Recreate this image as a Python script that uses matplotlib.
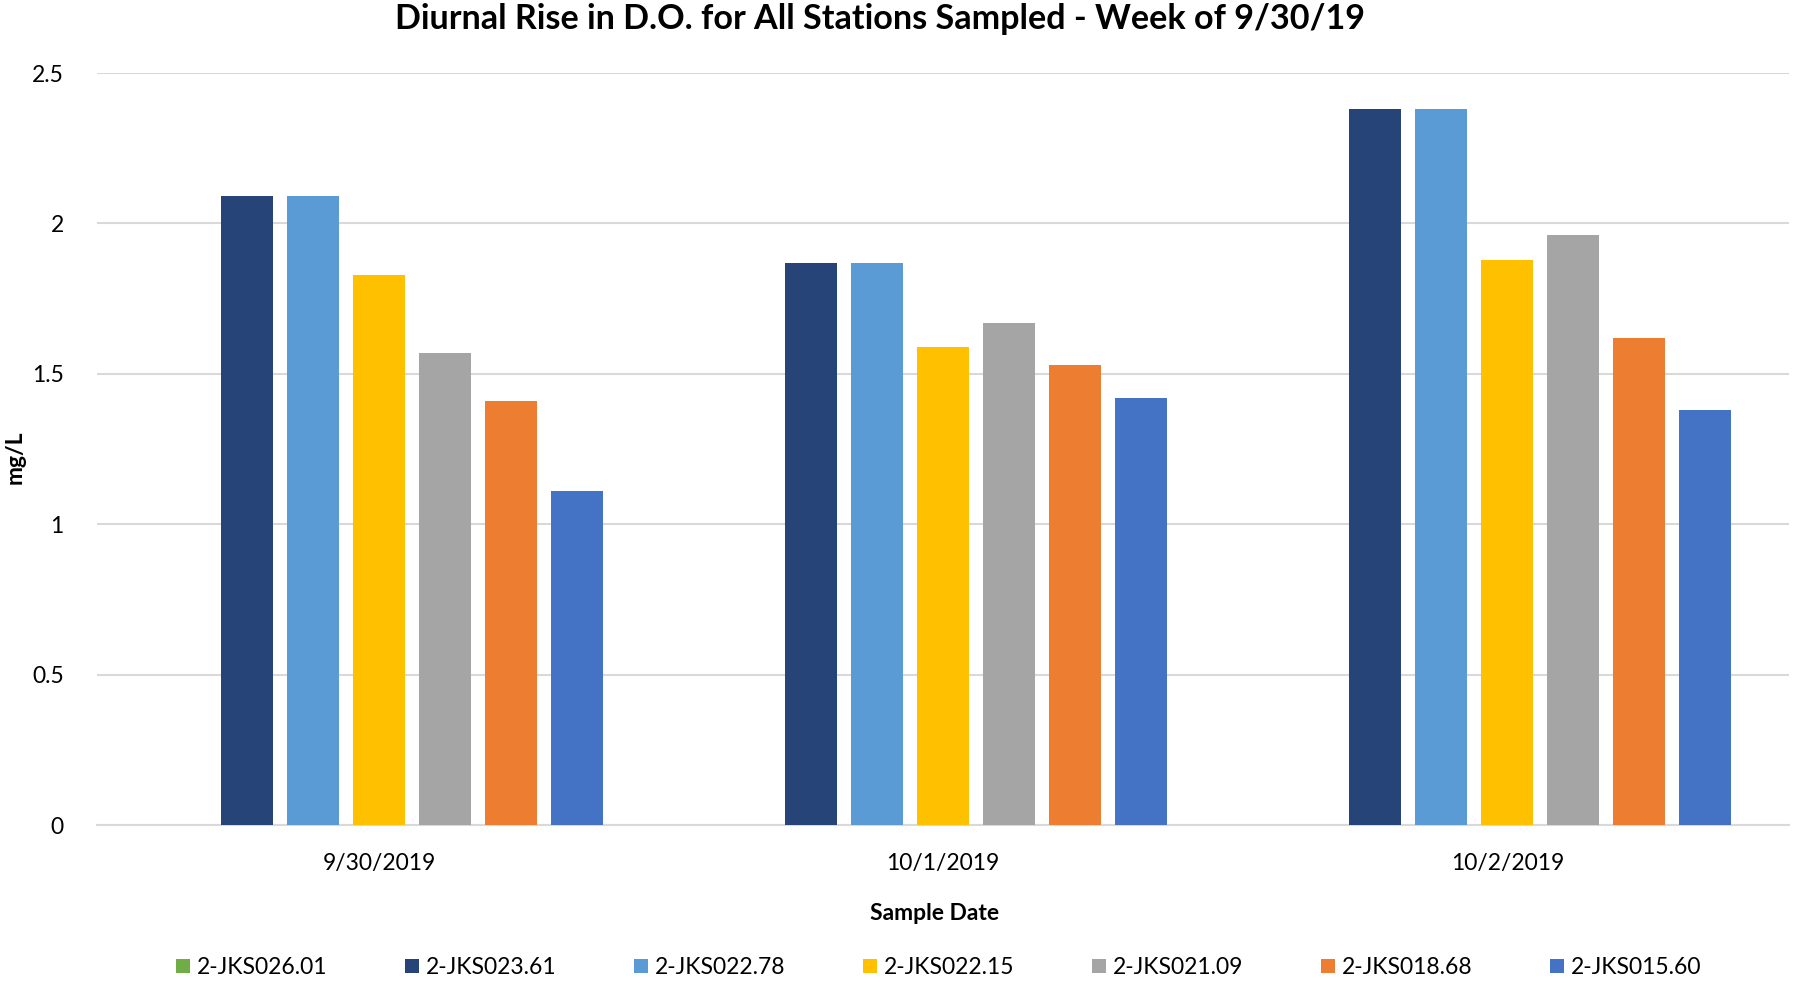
import matplotlib
matplotlib.use("Agg")
import matplotlib.pyplot as plt
import numpy as np

dates = ["9/30/2019", "10/1/2019", "10/2/2019"]
stations = ["2-JKS026.01", "2-JKS023.61", "2-JKS022.78", "2-JKS022.15",
            "2-JKS021.09", "2-JKS018.68", "2-JKS015.60"]
jks026_01 = [0.0, 0.0, 0.0]
jks023_61 = [2.09, 1.87, 2.38]
jks022_78 = [2.09, 1.87, 2.38]
jks022_15 = [1.83, 1.59, 1.88]
jks021_09 = [1.57, 1.67, 1.96]
jks018_68 = [1.41, 1.53, 1.62]
jks015_60 = [1.11, 1.42, 1.38]
series = [jks026_01, jks023_61, jks022_78, jks022_15, jks021_09, jks018_68, jks015_60]
colors = ["#70AD47", "#264478", "#5B9BD5", "#FFC000", "#A5A5A5", "#ED7D31", "#4472C4"]
yticks = [0, 0.5, 1, 1.5, 2, 2.5]
ytick_labels = ["0", "0.5", "1", "1.5", "2", "2.5"]

plt.rcParams['font.family'] = ['Lato', 'DejaVu Sans']

fig = plt.figure(figsize=(17.93, 9.83), dpi=100)
ax = fig.add_axes([0.0541, 0.1607, 0.9439, 0.765])

x = np.arange(len(dates))
slot = 66 / 564.3
width = 52 / 564.3
n = len(series)
for i, (vals, c, name) in enumerate(zip(series, colors, stations)):
    offs = (i - (n - 1) / 2) * slot
    ax.bar(x + offs, vals, width=width, color=c, label=name, linewidth=0, zorder=3)

ax.set_xlim(-0.5, len(dates) - 0.5)
ax.set_ylim(0, 2.5)
ax.set_yticks(yticks)
ax.set_yticklabels(ytick_labels)
ax.set_xticks(x)
ax.set_xticklabels(dates)
ax.tick_params(axis='both', length=0, labelsize=16.5, colors='#000000')
ax.tick_params(axis='x', pad=20)
ax.tick_params(axis='y', pad=24)
ax.grid(axis='y', color='#D9D9D9', linewidth=1.5, zorder=0)
for s in ['top', 'right', 'left']:
    ax.spines[s].set_visible(False)
ax.spines['bottom'].set_color('#D9D9D9')
ax.spines['bottom'].set_linewidth(1.5)

ax.set_xlabel("Sample Date", fontsize=16.5, fontweight='bold')
ax.xaxis.set_label_coords(0.495, -0.104)
ax.set_ylabel("mg/L", fontsize=16.5, fontweight='bold')
ax.yaxis.set_label_coords(-0.042, 0.489)
fig.suptitle("Diurnal Rise in D.O. for All Stations Sampled - Week of 9/30/19",
             fontsize=24.6, fontweight='bold', x=0.491, y=0.997, va='top')

fig.legend(loc='lower center', bbox_to_anchor=(0.5236, -0.016), ncol=7, frameon=False,
           fontsize=16.5, handlelength=0.6, handleheight=0.6, columnspacing=3.4,
           handletextpad=0.3)

fig.savefig("out.png", dpi=100)
